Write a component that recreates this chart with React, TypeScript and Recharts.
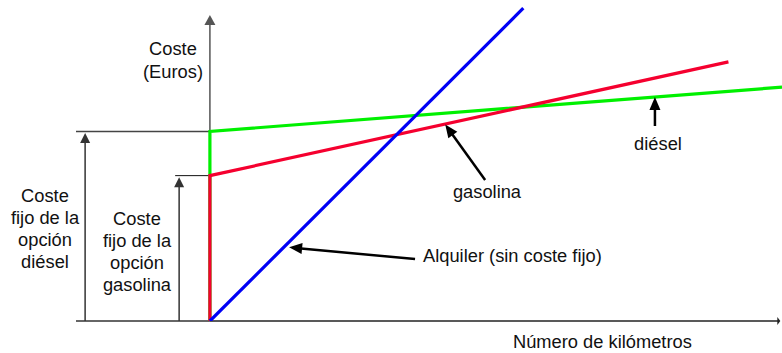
import { ComposedChart, Line, ReferenceLine, XAxis, YAxis } from "recharts";

// cost lines (x = km, y = euros, schematic units)
const alquiler = [
  { x: 0, y: 0 },
  { x: 55, y: 99 },
];
const gasolina = [
  { x: 0, y: 0 },
  { x: 0, y: 46 },
  { x: 91, y: 82 },
];
const diesel = [
  { x: 0, y: 0 },
  { x: 0, y: 60 },
  { x: 100.4, y: 74 },
];

const fixedDiesel = 60;
const fixedGasolina = 46;

const xDomain = [-23.5, 100.4];
const yDomain = [0, 100];

const font = "'Liberation Sans', Arial, sans-serif";

// line with a filled head at the second point of the segment
function arrowShape(head: number, width: number) {
  return (p: any) => {
    const { x1, y1, x2, y2, stroke, strokeWidth } = p;
    const dx = x2 - x1;
    const dy = y2 - y1;
    const len = Math.sqrt(dx * dx + dy * dy) || 1;
    const ux = dx / len;
    const uy = dy / len;
    const bx = x2 - ux * head;
    const by = y2 - uy * head;
    const nx = -uy * (width / 2);
    const ny = ux * (width / 2);
    return (
      <g>
        <line x1={x1} y1={y1} x2={bx + ux} y2={by + uy} stroke={stroke} strokeWidth={strokeWidth} />
        <polygon points={`${x2},${y2} ${bx + nx},${by + ny} ${bx - nx},${by - ny}`} fill={stroke} />
      </g>
    );
  };
}

const textStyle = { fontFamily: font, fontSize: 18.3, fill: "#111" };

export default function App() {
  return (
    <div style={{ position: "absolute", left: 0, top: 0, background: "#fff" }}>
      <ComposedChart width={782} height={353} margin={{ top: 5, right: 0, bottom: 32, left: 76 }}>
        <XAxis type="number" dataKey="x" domain={xDomain} hide allowDataOverflow />
        <YAxis type="number" dataKey="y" domain={yDomain} hide allowDataOverflow />

        {/* axes */}
        <ReferenceLine
          segment={[{ x: 0, y: 0 }, { x: 0, y: 96.8 }]}
          stroke="#555"
          strokeWidth={1.5}
          ifOverflow="visible"
          shape={arrowShape(10, 11)}
        />
        <ReferenceLine
          segment={[{ x: xDomain[0], y: 0 }, { x: 0, y: 0 }]}
          stroke="#666"
          strokeWidth={2}
          ifOverflow="visible"
        />
        <ReferenceLine
          segment={[{ x: 0, y: 0 }, { x: 100.1, y: 0 }]}
          stroke="#222"
          strokeWidth={1.3}
          ifOverflow="visible"
          shape={arrowShape(3, 8)}
        />

        {/* fixed-cost guides */}
        <ReferenceLine
          segment={[{ x: xDomain[0], y: fixedDiesel }, { x: 0, y: fixedDiesel }]}
          stroke="#444"
          strokeWidth={1.5}
          ifOverflow="visible"
        />
        <ReferenceLine
          segment={[{ x: -6.1, y: fixedGasolina }, { x: 0, y: fixedGasolina }]}
          stroke="#111"
          strokeWidth={1}
          ifOverflow="visible"
        />
        <ReferenceLine
          segment={[{ x: -21.9, y: 0 }, { x: -21.9, y: fixedDiesel - 0.5 }]}
          stroke="#333"
          strokeWidth={1.5}
          ifOverflow="visible"
          shape={arrowShape(10, 10)}
        />
        <ReferenceLine
          segment={[{ x: -5.4, y: 0 }, { x: -5.4, y: fixedGasolina - 0.5 }]}
          stroke="#333"
          strokeWidth={1.5}
          ifOverflow="visible"
          shape={arrowShape(10, 10)}
        />

        <Line data={diesel} dataKey="y" type="linear" stroke="#00f000" strokeWidth={3.2} dot={false} activeDot={false} isAnimationActive={false} />
        <Line data={gasolina} dataKey="y" type="linear" stroke="#f5002f" strokeWidth={3.2} dot={false} activeDot={false} isAnimationActive={false} />
        <Line data={alquiler} dataKey="y" type="linear" stroke="#0000f5" strokeWidth={3.2} dot={false} activeDot={false} isAnimationActive={false} />

        {/* annotation arrows */}
        <ReferenceLine
          segment={[{ x: 48.3, y: 44.6 }, { x: 41.3, y: 62.2 }]}
          stroke="#000"
          strokeWidth={2.5}
          ifOverflow="visible"
          shape={arrowShape(13, 11)}
        />
        <ReferenceLine
          segment={[{ x: 78.1, y: 61.7 }, { x: 78.1, y: 70.9 }]}
          stroke="#000"
          strokeWidth={2.5}
          ifOverflow="visible"
          shape={arrowShape(13, 11)}
        />
        <ReferenceLine
          segment={[{ x: 36, y: 19.6 }, { x: 13.9, y: 23.3 }]}
          stroke="#000"
          strokeWidth={2.5}
          ifOverflow="visible"
          shape={arrowShape(13, 11)}
        />

        <g>
          <text x={173} y={55} textAnchor="middle" {...textStyle}>Coste</text>
          <text x={173} y={78} textAnchor="middle" {...textStyle}>(Euros)</text>

          <text x={45} y={202} textAnchor="middle" {...textStyle}>Coste</text>
          <text x={45} y={224} textAnchor="middle" {...textStyle}>fijo de la</text>
          <text x={45} y={246} textAnchor="middle" {...textStyle}>opción</text>
          <text x={45} y={268} textAnchor="middle" {...textStyle}>diésel</text>

          <text x={137} y={225} textAnchor="middle" {...textStyle}>Coste</text>
          <text x={137} y={247} textAnchor="middle" {...textStyle}>fijo de la</text>
          <text x={137} y={269} textAnchor="middle" {...textStyle}>opción</text>
          <text x={137} y={291} textAnchor="middle" {...textStyle}>gasolina</text>

          <text x={487} y={198} textAnchor="middle" {...textStyle}>gasolina</text>
          <text x={658} y={150} textAnchor="middle" {...textStyle}>diésel</text>
          <text x={423} y={262} {...textStyle}>Alquiler (sin coste fijo)</text>
          <text x={513} y={348} {...textStyle}>Número de kilómetros</text>
        </g>
      </ComposedChart>
    </div>
  );
}
